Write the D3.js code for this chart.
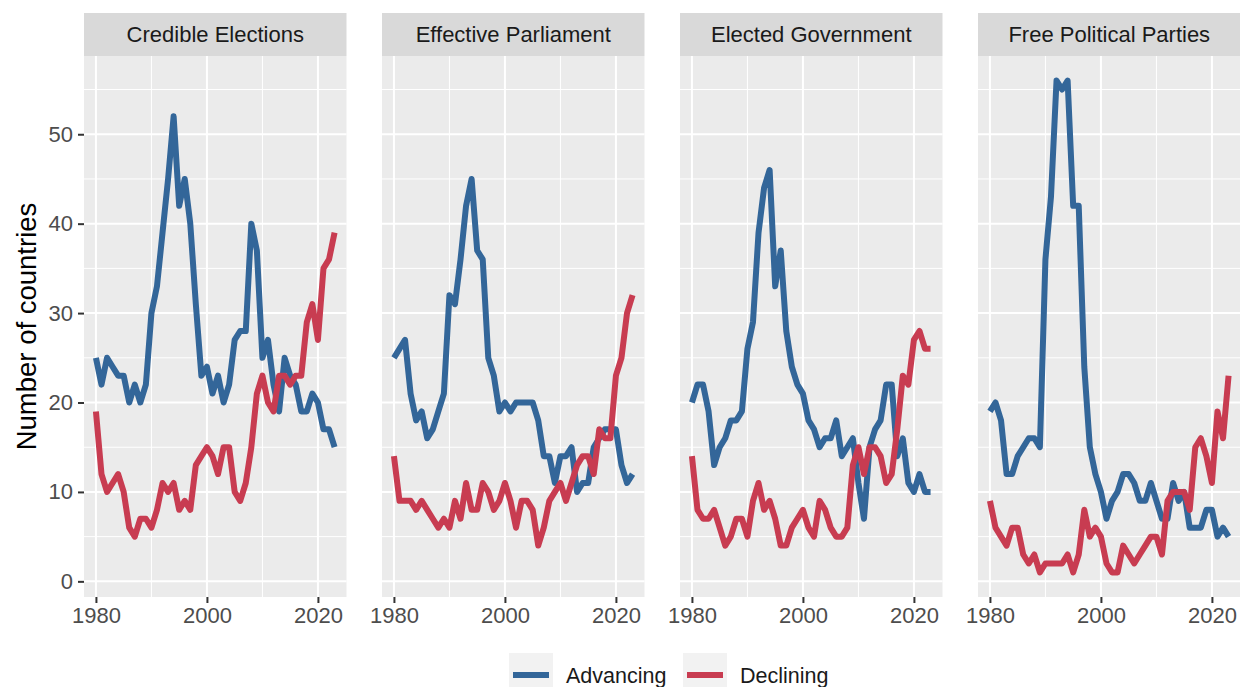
<!DOCTYPE html>
<html>
<head>
<meta charset="utf-8">
<script src="https://cdn.jsdelivr.net/npm/d3@7"></script>
<style>
  html, body { margin: 0; padding: 0; background: #ffffff; }
  svg { display: block; font-family: "Liberation Sans", Arial, sans-serif; }
</style>
</head>
<body>
<svg id="chart" width="1240" height="687"></svg>
<script>
// Years covered by every series
const years = [1980, 1981, 1982, 1983, 1984, 1985, 1986, 1987, 1988, 1989,
               1990, 1991, 1992, 1993, 1994, 1995, 1996, 1997, 1998, 1999,
               2000, 2001, 2002, 2003, 2004, 2005, 2006, 2007, 2008, 2009,
               2010, 2011, 2012, 2013, 2014, 2015, 2016, 2017, 2018, 2019,
               2020, 2021, 2022, 2023];

const facets = ["Credible Elections", "Effective Parliament", "Elected Government", "Free Political Parties"];
const seriesNames = ["Advancing", "Declining"];

// Number of countries advancing / declining, per indicator
const electionsAdvancing = [25, 22, 25, 24, 23, 23, 20, 22, 20, 22,
                            30, 33, 39, 45, 52, 42, 45, 40, 31, 23,
                            24, 21, 23, 20, 22, 27, 28, 28, 40, 37,
                            25, 27, 22, 19, 25, 23, 22, 19, 19, 21,
                            20, 17, 17, 15];
const electionsDeclining = [19, 12, 10, 11, 12, 10, 6, 5, 7, 7,
                            6, 8, 11, 10, 11, 8, 9, 8, 13, 14,
                            15, 14, 12, 15, 15, 10, 9, 11, 15, 21,
                            23, 20, 19, 23, 23, 22, 23, 23, 29, 31,
                            27, 35, 36, 39];

const parliamentAdvancing = [25, 26, 27, 21, 18, 19, 16, 17, 19, 21,
                             32, 31, 36, 42, 45, 37, 36, 25, 23, 19,
                             20, 19, 20, 20, 20, 20, 18, 14, 14, 11,
                             14, 14, 15, 10, 11, 11, 15, 16, 17, 17,
                             17, 13, 11, 12];
const parliamentDeclining = [14, 9, 9, 9, 8, 9, 8, 7, 6, 7,
                             6, 9, 7, 11, 8, 8, 11, 10, 8, 9,
                             11, 9, 6, 9, 9, 8, 4, 6, 9, 10,
                             11, 9, 11, 13, 14, 14, 12, 17, 16, 16,
                             23, 25, 30, 32];

const governmentAdvancing = [20, 22, 22, 19, 13, 15, 16, 18, 18, 19,
                             26, 29, 39, 44, 46, 33, 37, 28, 24, 22,
                             21, 18, 17, 15, 16, 16, 18, 14, 15, 16,
                             11, 7, 15, 17, 18, 22, 22, 14, 16, 11,
                             10, 12, 10, 10];
const governmentDeclining = [14, 8, 7, 7, 8, 6, 4, 5, 7, 7,
                             5, 9, 11, 8, 9, 7, 4, 4, 6, 7,
                             8, 6, 5, 9, 8, 6, 5, 5, 6, 13,
                             15, 12, 15, 15, 14, 11, 12, 17, 23, 22,
                             27, 28, 26, 26];

const partiesAdvancing = [19, 20, 18, 12, 12, 14, 15, 16, 16, 15,
                          36, 43, 56, 55, 56, 42, 42, 24, 15, 12,
                          10, 7, 9, 10, 12, 12, 11, 9, 9, 11,
                          9, 7, 7, 11, 9, 10, 6, 6, 6, 8,
                          8, 5, 6, 5];
const partiesDeclining = [9, 6, 5, 4, 6, 6, 3, 2, 3, 1,
                          2, 2, 2, 2, 3, 1, 3, 8, 5, 6,
                          5, 2, 1, 1, 4, 3, 2, 3, 4, 5,
                          5, 3, 9, 10, 10, 10, 8, 15, 16, 14,
                          11, 19, 16, 23];

const xTicks = [1980, 2000, 2020];
const xMinor = [1990, 2010];
const yTicks = [0, 10, 20, 30, 40, 50];
const yMinor = [5, 15, 25, 35, 45, 55];

const advancingByFacet = [electionsAdvancing, parliamentAdvancing, governmentAdvancing, partiesAdvancing];
const decliningByFacet = [electionsDeclining, parliamentDeclining, governmentDeclining, partiesDeclining];

// ---- layout ----
const colors = { Advancing: "#336699", Declining: "#c83c51" };
const panelTop = 56, panelBottom = 597;
const stripTop = 13;
const panelW = 262.5, panelStep = 298, firstLeft = 84;
const fontSize = 22;
const legendFont = 21.5;
const lineWidth = 6;

const svg = d3.select("#chart");

// Shared scales (5% expansion around the data range)
const allValues = advancingByFacet.concat(decliningByFacet).flat();
const yMin = d3.min(allValues), yMax = d3.max(allValues);
const yPad = (yMax - yMin) * 0.05;
const y = d3.scaleLinear().domain([yMin - yPad, yMax + yPad]).range([panelBottom, panelTop]);
const xPad = (d3.max(years) - d3.min(years)) * 0.05;
const xDomain = [d3.min(years) - xPad, d3.max(years) + xPad];

facets.forEach((name, i) => {
  const left = firstLeft + i * panelStep;
  const x = d3.scaleLinear().domain(xDomain).range([left, left + panelW]);
  const g = svg.append("g");

  // strip
  g.append("rect").attr("x", left).attr("y", stripTop)
    .attr("width", panelW).attr("height", panelTop - stripTop).attr("fill", "#d9d9d9");
  g.append("text").attr("x", left + panelW / 2).attr("y", (stripTop + panelTop) / 2)
    .attr("dy", "0.35em").attr("text-anchor", "middle")
    .attr("font-size", fontSize).attr("fill", "#1a1a1a").text(name);

  // panel background
  g.append("rect").attr("x", left).attr("y", panelTop)
    .attr("width", panelW).attr("height", panelBottom - panelTop).attr("fill", "#ebebeb");

  // minor grid
  g.selectAll(".ymin").data(yMinor).join("line")
    .attr("x1", left).attr("x2", left + panelW)
    .attr("y1", d => y(d)).attr("y2", d => y(d))
    .attr("stroke", "#ffffff").attr("stroke-width", 1);
  g.selectAll(".xmin").data(xMinor).join("line")
    .attr("y1", panelTop).attr("y2", panelBottom)
    .attr("x1", d => x(d)).attr("x2", d => x(d))
    .attr("stroke", "#ffffff").attr("stroke-width", 1);
  // major grid
  g.selectAll(".ymaj").data(yTicks).join("line")
    .attr("x1", left).attr("x2", left + panelW)
    .attr("y1", d => y(d)).attr("y2", d => y(d))
    .attr("stroke", "#ffffff").attr("stroke-width", 2);
  g.selectAll(".xmaj").data(xTicks).join("line")
    .attr("y1", panelTop).attr("y2", panelBottom)
    .attr("x1", d => x(d)).attr("x2", d => x(d))
    .attr("stroke", "#ffffff").attr("stroke-width", 2);

  // series lines: advancing underneath, declining on top
  const line = d3.line().x((d, k) => x(years[k])).y(d => y(d));
  [[advancingByFacet[i], "Advancing"], [decliningByFacet[i], "Declining"]].forEach(([vals, s]) => {
    g.append("path").datum(vals).attr("d", line)
      .attr("fill", "none").attr("stroke", colors[s])
      .attr("stroke-width", lineWidth).attr("stroke-linejoin", "round").attr("stroke-linecap", "butt");
  });

  // x axis
  const xAxis = d3.axisBottom(x).tickValues(xTicks).tickFormat(d3.format("d"))
    .tickSize(6).tickPadding(4);
  const xa = g.append("g").attr("transform", `translate(0,${panelBottom})`).call(xAxis);
  xa.select(".domain").remove();
  xa.selectAll(".tick line").attr("stroke", "#333333").attr("stroke-width", 2);
  xa.selectAll(".tick text").attr("font-size", fontSize).attr("fill", "#4d4d4d")
    .attr("font-family", "Liberation Sans, Arial, sans-serif");

  // y axis on the first panel only
  if (i === 0) {
    const yAxis = d3.axisLeft(y).tickValues(yTicks).tickSize(6).tickPadding(5);
    const ya = g.append("g").attr("transform", `translate(${left},0)`).call(yAxis);
    ya.select(".domain").remove();
    ya.selectAll(".tick line").attr("stroke", "#333333").attr("stroke-width", 2);
    ya.selectAll(".tick text").attr("font-size", fontSize).attr("fill", "#4d4d4d")
      .attr("font-family", "Liberation Sans, Arial, sans-serif");
  }
});

// y axis title
svg.append("text")
  .attr("transform", `translate(36,${(panelTop + panelBottom) / 2}) rotate(-90)`)
  .attr("text-anchor", "middle").attr("font-size", 27.5).attr("fill", "#000000")
  .text("Number of countries");

// legend
const legendX = [509, 683];
const legend = svg.append("g");
seriesNames.forEach((s, k) => {
  const lx = legendX[k];
  legend.append("rect").attr("x", lx).attr("y", 653).attr("width", 44).attr("height", 44)
    .attr("fill", "#f2f2f2");
  legend.append("line").attr("x1", lx + 4).attr("x2", lx + 40)
    .attr("y1", 675).attr("y2", 675)
    .attr("stroke", colors[s]).attr("stroke-width", lineWidth);
  legend.append("text").attr("x", lx + 57).attr("y", 675).attr("dy", "0.35em")
    .attr("font-size", legendFont).attr("fill", "#1a1a1a").text(s);
});
</script>
</body>
</html>
